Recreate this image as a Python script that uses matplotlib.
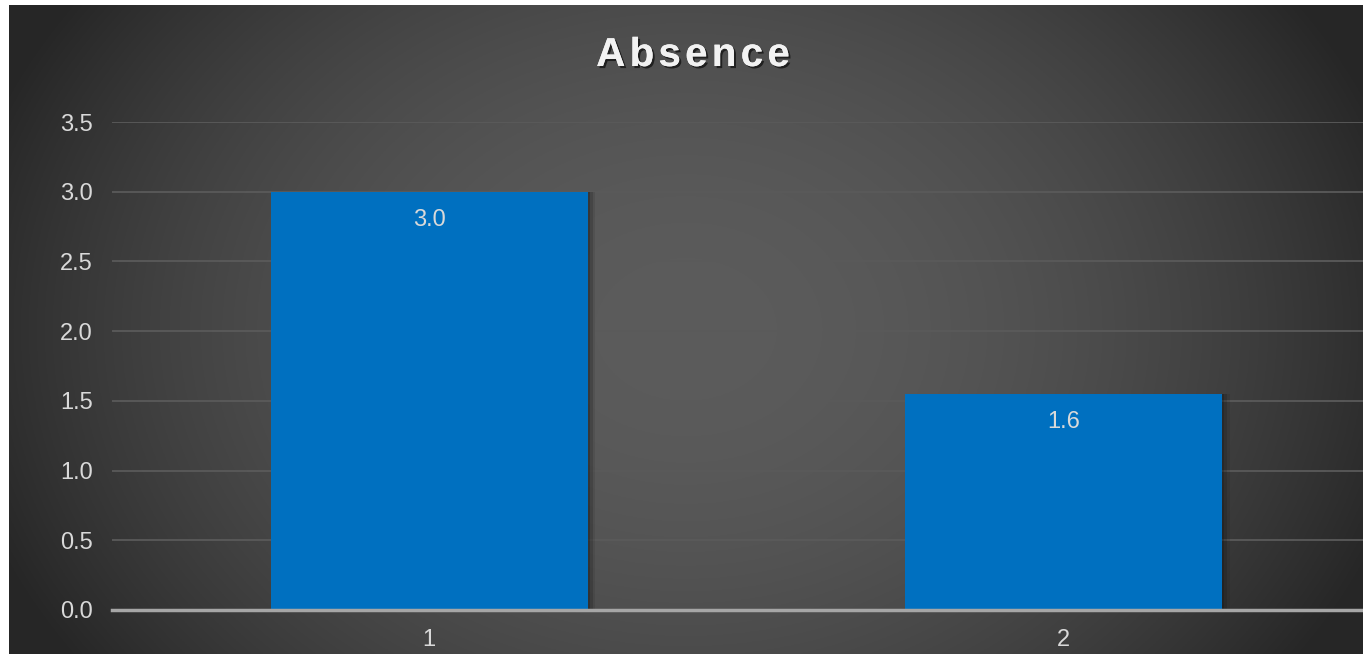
import matplotlib
matplotlib.use('Agg')
import matplotlib.pyplot as plt
import matplotlib.patheffects as pe
import numpy as np

# Data
categories = ['1', '2']
values = [3.0, 1.55]
value_labels = ['3.0', '1.6']
yticks = [0.0, 0.5, 1.0, 1.5, 2.0, 2.5, 3.0, 3.5]
title = 'Absence'

W, H = 1363, 654
fig = plt.figure(figsize=(W / 100, H / 100), dpi=100)
fig.patch.set_facecolor('white')

# Radial gradient background (chart area starts slightly inside the image)
bg = fig.add_axes([9 / W, 0, 1 - 9 / W, 1 - 5 / H])
bg.set_axis_off()
yy, xx = np.mgrid[0:1:400j, 0:1:800j]
r2 = ((xx - 0.5) / 0.55) ** 2 + ((yy - 0.5) / 0.9) ** 2
shade = np.clip(0.36 - 0.21 * r2, 0.15, 1)
img = np.dstack([shade, shade, shade])
bg.imshow(img, aspect='auto', extent=[0, 1, 0, 1], origin='lower')

# Main plot axes (x range runs past the right edge, as in the reference)
left = 112 / W
right = 1380.5 / W
bottom = (H - 610) / H
top = (H - 122) / H
ax = fig.add_axes([left, bottom, right - left, top - bottom])
ax.set_facecolor('none')

x = np.arange(1, len(categories) + 1)
# soft shadow to the right of the bars
for k, a in enumerate([0.25, 0.18, 0.10]):
    ax.bar(x + 0.004 * (k + 1), values, width=0.5, color='#111111',
           alpha=a, zorder=2, linewidth=0)
ax.bar(x, values, width=0.5, color='#0070C0', zorder=3, linewidth=0)

for xi, v, lab in zip(x, values, value_labels):
    ax.text(xi, v - 0.205, lab, ha='center', va='center', fontsize=17,
            color='#d9d9d9', family='Liberation Sans', zorder=4)

ax.set_xlim(0.5, 2.5)
ax.set_ylim(0, 3.5)
ax.set_yticks(yticks)
ax.set_yticklabels([f'{t:.1f}' for t in yticks])
ax.set_xticks(x)
ax.set_xticklabels(categories)

ax.grid(axis='y', color='#5a5a5a', linewidth=1.3, zorder=1)
ax.set_axisbelow(True)
for s in ['top', 'right', 'left']:
    ax.spines[s].set_visible(False)
ax.spines['bottom'].set_color('#a6a6a6')
ax.spines['bottom'].set_linewidth(2.5)
ax.spines['bottom'].set_zorder(5)

ax.tick_params(axis='both', length=0, labelsize=17, labelcolor='#d9d9d9')
ax.tick_params(axis='y', pad=14)
ax.tick_params(axis='x', pad=14)
for lbl in ax.get_xticklabels() + ax.get_yticklabels():
    lbl.set_family('Liberation Sans')

# Title with extra letter spacing: lay out the characters one by one
renderer = fig.canvas.get_renderer()
spacing = 4.3
shadow = [pe.withSimplePatchShadow(offset=(1.5, -1.5), shadow_rgbFace='black', alpha=0.6),
          pe.Normal()]
chars = []
widths = []
for ch in title:
    t = fig.text(0, 0, ch, fontsize=29, fontweight='bold', color='#f2f2f2',
                 family='Liberation Sans', ha='left', va='baseline',
                 path_effects=shadow)
    chars.append(t)
    widths.append(t.get_window_extent(renderer).width)
total = sum(widths) + spacing * (len(title) - 1)
xpos = 693 - total / 2
base_y = H - 66
for t, w in zip(chars, widths):
    t.set_position((xpos / W, base_y / H))
    xpos += w + spacing

fig.savefig('out.png', dpi=100, facecolor=fig.get_facecolor())
